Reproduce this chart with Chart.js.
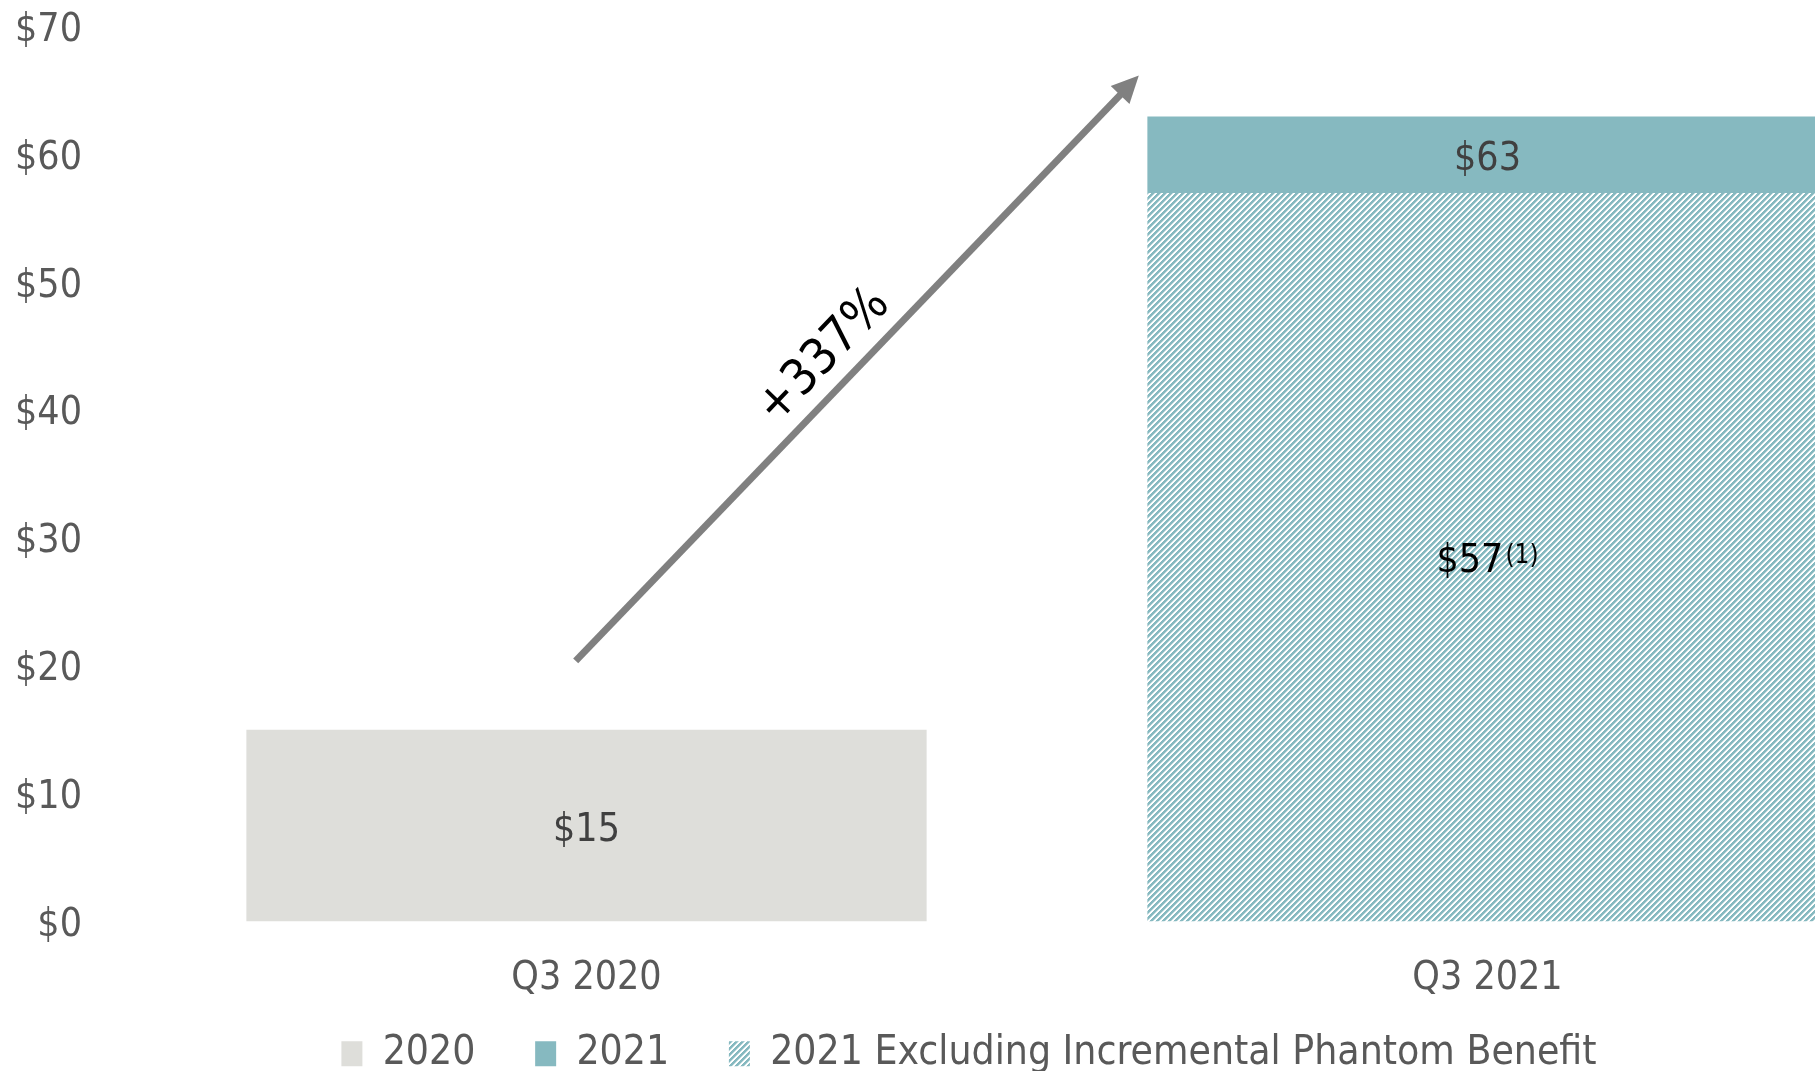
<!DOCTYPE html>
<html>
<head>
<meta charset="utf-8">
<script src="https://cdn.jsdelivr.net/npm/chart.js@4.4.1/dist/chart.umd.min.js"></script>
<style>
  html, body { margin: 0; padding: 0; background: #fff; overflow: hidden; }
  /* plot runs off the right edge on purpose, the second bar is cut by the frame */
  #wrap { position: relative; width: 1938px; height: 1084px; }
</style>
</head>
<body>
<div id="wrap"><canvas id="revenue-chart"></canvas></div>
<script>
// Q3 revenue, $ millions
const categories = ['Q3 2020', 'Q3 2021']
const values2020 = [15, null]
const values2021 = [null, [57, 63]]          // phantom benefit sits on top of the base
const valuesExPhantom = [null, 57]
const yTicks = [0, 10, 20, 30, 40, 50, 60, 70]
const growthLabel = '+337%'

const COLORS = {
  grey: '#dededa',
  teal: '#86b9c0',
  axis: '#595959',
  label: '#404040',
  arrow: '#808080',
}
const FONT = "'DejaVu Sans Condensed', 'DejaVu Sans', sans-serif"

const canvas = document.getElementById('revenue-chart')
const ctx = canvas.getContext('2d')

// diagonal "/" stripes, teal on white
function hatch(color) {
  const size = 6
  const tile = document.createElement('canvas')
  tile.width = size
  tile.height = size
  const g = tile.getContext('2d')
  g.fillStyle = '#fff'
  g.fillRect(0, 0, size, size)
  g.fillStyle = color
  for (let x = 0; x < size; x++) {
    for (let y = 0; y < size; y++) {
      const d = (x + y) % size
      if (d < 3) {
        g.globalAlpha = 1
        g.fillRect(x, y, 1, 1)
      } else if (d === 3) {
        g.globalAlpha = 0.5
        g.fillRect(x, y, 1, 1)
      }
    }
  }
  return ctx.createPattern(tile, 'repeat')
}

// value labels in the middle of each bar, with optional footnote marker
const barLabels = {
  id: 'barLabels',
  afterDatasetsDraw(chart) {
    const c = chart.ctx
    chart.data.datasets.forEach((ds, i) => {
      const meta = chart.getDatasetMeta(i)
      meta.data.forEach((bar, j) => {
        const raw = ds.data[j]
        if (raw == null) return
        const value = Array.isArray(raw) ? raw[1] : raw
        const text = '$' + value
        const note = ds.labelNote || ''
        const cy = (bar.y + bar.base) / 2

        c.save()
        c.textBaseline = 'alphabetic'
        c.textAlign = 'left'
        c.font = `39px ${FONT}`
        const w1 = c.measureText(text).width
        c.font = `26px ${FONT}`
        const w2 = note ? c.measureText(note).width + 2 : 0
        const x = bar.x - (w1 + w2) / 2
        const base = cy + 15

        c.fillStyle = ds.labelColor || COLORS.label
        c.font = `39px ${FONT}`
        c.fillText(text, x, base)
        if (note) {
          c.font = `26px ${FONT}`
          c.fillText(note, x + w1 + 2, base - 9)
        }
        c.restore()
      })
    })
  }
}

// growth arrow between the two quarters
const growthArrow = {
  id: 'growthArrow',
  afterDatasetsDraw(chart, args, opts) {
    const { ctx: c, scales: { x, y } } = chart
    const x0 = x.getPixelForValue(opts.from[0])
    const y0 = y.getPixelForValue(opts.from[1])
    const x1 = x.getPixelForValue(opts.to[0])
    const y1 = y.getPixelForValue(opts.to[1])
    const ang = Math.atan2(y1 - y0, x1 - x0)
    const len = Math.hypot(x1 - x0, y1 - y0)
    const head = 27
    const half = 13

    c.save()
    c.translate(x0, y0)
    c.rotate(ang)
    c.strokeStyle = opts.color
    c.fillStyle = opts.color
    c.lineWidth = 7
    c.lineCap = 'butt'
    c.beginPath()
    c.moveTo(0, 0)
    c.lineTo(len - head + 2, 0)
    c.stroke()
    c.beginPath()
    c.moveTo(len, 0)
    c.lineTo(len - head, -half)
    c.lineTo(len - head, half)
    c.closePath()
    c.fill()

    c.fillStyle = '#000'
    c.font = `50px ${FONT}`
    c.textAlign = 'center'
    c.textBaseline = 'middle'
    c.fillText(opts.label, len * 0.482, -32)
    c.restore()
  }
}

// default legend items, with a little trailing room after all but the last
function legendItems(chart) {
  const items = Chart.defaults.plugins.legend.labels.generateLabels(chart)
  return items.map((item, i) =>
    i < items.length - 1 ? { ...item, text: item.text + '\u2002 ' } : item)
}

new Chart(canvas, {
  type: 'bar',
  data: {
    labels: categories,
    datasets: [
      {
        label: '2020',
        data: values2020,
        backgroundColor: COLORS.grey,
        borderWidth: 0,
      },
      {
        label: '2021',
        data: values2021,
        backgroundColor: COLORS.teal,
        borderWidth: 0,
      },
      {
        label: '2021 Excluding Incremental Phantom Benefit',
        data: valuesExPhantom,
        backgroundColor: hatch(COLORS.teal),
        borderWidth: 0,
        labelColor: '#000',
        labelNote: '(1)',
      },
    ]
  },
  options: {
    responsive: true,
    maintainAspectRatio: false,
    animation: false,
    events: [],
    datasets: {
      bar: { barPercentage: 1, categoryPercentage: 0.755 }
    },
    layout: { padding: { top: 27, left: 0, right: 0, bottom: 0 } },
    scales: {
      x: {
        stacked: true,
        grid: { display: false, drawTicks: false },
        border: { display: false },
        ticks: {
          color: COLORS.axis,
          padding: 34,
          font: { family: FONT, size: 39 },
        },
        afterFit: (scale) => { scale.height = 82 },
      },
      y: {
        stacked: false,
        min: 0,
        max: 70,
        // hidden tick marks give the gap between the labels and the bars
        grid: { display: false, drawTicks: true, tickLength: 54 },
        border: { display: false },
        afterBuildTicks: (scale) => { scale.ticks = yTicks.map(v => ({ value: v })) },
        ticks: {
          color: COLORS.axis,
          padding: 0,
          labelOffset: 4,
          font: { family: FONT, size: 39 },
          callback: (v) => '$' + v,
        },
        afterFit: (scale) => { scale.width = 136 },
      }
    },
    plugins: {
      legend: {
        position: 'bottom',
        labels: {
          boxWidth: 21,
          boxHeight: 25,
          padding: 30,
          color: COLORS.axis,
          font: { family: FONT, size: 40.5 },
          generateLabels: legendItems,
        }
      },
      tooltip: { enabled: false },
      growthArrow: {
        from: [-0.012, 20.4],
        to: [0.613, 66.2],
        label: growthLabel,
        color: COLORS.arrow,
      }
    }
  },
  plugins: [barLabels, growthArrow]
})
</script>
</body>
</html>
